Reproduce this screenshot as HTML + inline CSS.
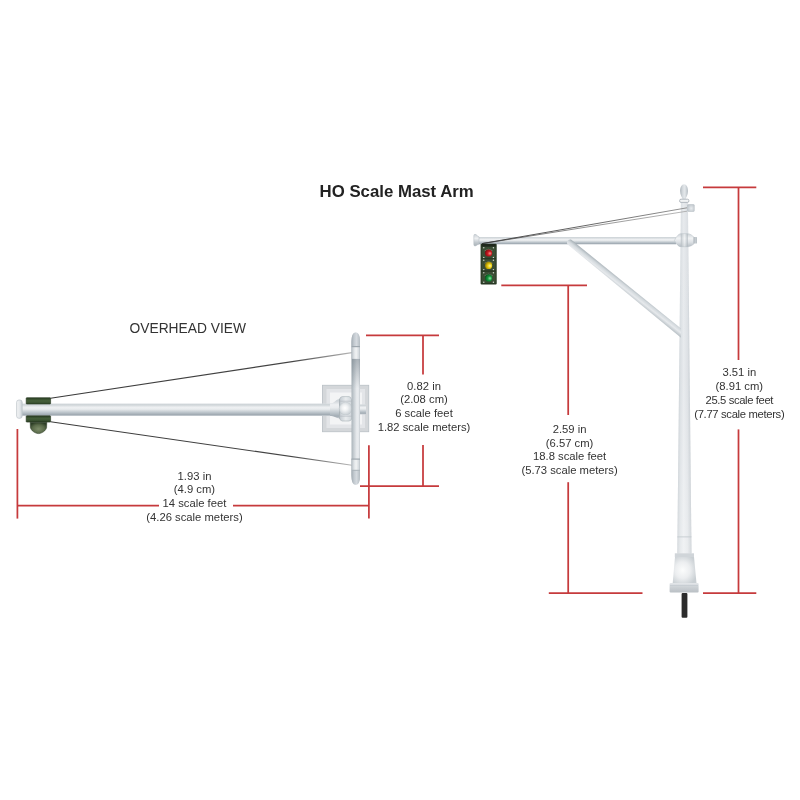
<!DOCTYPE html>
<html><head><meta charset="utf-8">
<style>
html,body{margin:0;padding:0;background:#fff;}
body{width:800px;height:800px;overflow:hidden;position:relative;}
svg{position:absolute;left:0;top:0;will-change:transform;}
text{font-family:"Liberation Sans",sans-serif;fill:#333;}
.t{font-size:11.25px;text-anchor:middle;}
</style></head>
<body>
<svg width="800" height="800" viewBox="0 0 800 800">
<defs>
  <linearGradient id="armH" x1="0" y1="0" x2="0" y2="1">
    <stop offset="0" stop-color="#d9dee1"/>
    <stop offset="0.1" stop-color="#cdd3d7"/>
    <stop offset="0.3" stop-color="#eef0f2"/>
    <stop offset="0.45" stop-color="#e9ecee"/>
    <stop offset="0.7" stop-color="#bfc7cd"/>
    <stop offset="0.88" stop-color="#a2acb4"/>
    <stop offset="1" stop-color="#cbd0d5"/>
  </linearGradient>
  <linearGradient id="armV" x1="0" y1="0" x2="1" y2="0">
    <stop offset="0" stop-color="#a8b1b8"/>
    <stop offset="0.2" stop-color="#c5ccd2"/>
    <stop offset="0.55" stop-color="#eef0f2"/>
    <stop offset="0.75" stop-color="#f2f4f5"/>
    <stop offset="0.9" stop-color="#d3d8db"/>
    <stop offset="1" stop-color="#dde1e4"/>
  </linearGradient>
  <linearGradient id="poleV" x1="0" y1="0" x2="1" y2="0">
    <stop offset="0" stop-color="#bdc4ca"/>
    <stop offset="0.22" stop-color="#d9dee2"/>
    <stop offset="0.45" stop-color="#e7eaed"/>
    <stop offset="0.72" stop-color="#dce0e4"/>
    <stop offset="1" stop-color="#b9c0c6"/>
  </linearGradient>
  <linearGradient id="poleLight" x1="0" y1="0" x2="0" y2="1">
    <stop offset="0" stop-color="#fff" stop-opacity="0"/>
    <stop offset="0.5" stop-color="#fff" stop-opacity="0.05"/>
    <stop offset="1" stop-color="#fff" stop-opacity="0.4"/>
  </linearGradient>
  <linearGradient id="green" x1="0" y1="0" x2="0" y2="1">
    <stop offset="0" stop-color="#2c3f24"/>
    <stop offset="0.5" stop-color="#4a6040"/>
    <stop offset="1" stop-color="#2c3f24"/>
  </linearGradient>
  <radialGradient id="dome" cx="0.5" cy="0.6" r="0.6">
    <stop offset="0" stop-color="#7d8d6a"/>
    <stop offset="0.6" stop-color="#5a6b4a"/>
    <stop offset="1" stop-color="#2d3e26"/>
  </radialGradient>
  <linearGradient id="gblk" x1="0" y1="0" x2="0" y2="1">
    <stop offset="0" stop-color="#2a3f23"/>
    <stop offset="0.5" stop-color="#46603a"/>
    <stop offset="1" stop-color="#33492b"/>
  </linearGradient>
  <linearGradient id="gblk2" x1="0" y1="0" x2="0" y2="1">
    <stop offset="0" stop-color="#2a3e23"/>
    <stop offset="0.45" stop-color="#445d38"/>
    <stop offset="1" stop-color="#2f4428"/>
  </linearGradient>
  <radialGradient id="base" cx="0.42" cy="0.5" r="0.62">
    <stop offset="0" stop-color="#fbfcfc"/>
    <stop offset="0.5" stop-color="#eceef0"/>
    <stop offset="1" stop-color="#c9cfd3"/>
  </radialGradient>
  <radialGradient id="ball" cx="0.45" cy="0.45" r="0.6">
    <stop offset="0" stop-color="#ffffff"/>
    <stop offset="0.35" stop-color="#f1f3f4"/>
    <stop offset="1" stop-color="#c3cad0"/>
  </radialGradient>
  <linearGradient id="shadeTop" x1="0" y1="0" x2="0" y2="1">
    <stop offset="0" stop-color="#5f6d77" stop-opacity="0.45"/>
    <stop offset="1" stop-color="#5f6d77" stop-opacity="0"/>
  </linearGradient>
  <linearGradient id="barV" x1="0" y1="0" x2="1" y2="0">
    <stop offset="0" stop-color="#aab3b9"/>
    <stop offset="0.25" stop-color="#c4cbd0"/>
    <stop offset="0.6" stop-color="#e6e9ec"/>
    <stop offset="0.8" stop-color="#e9ecef"/>
    <stop offset="1" stop-color="#c6ccd1"/>
  </linearGradient>
  <linearGradient id="collarV" x1="0" y1="0" x2="1" y2="0">
    <stop offset="0" stop-color="#b3bbc1"/>
    <stop offset="0.3" stop-color="#dfe3e6"/>
    <stop offset="0.55" stop-color="#f1f3f4"/>
    <stop offset="0.85" stop-color="#d6dbdf"/>
    <stop offset="1" stop-color="#b9c1c6"/>
  </linearGradient>
  <linearGradient id="tipV" x1="0" y1="0" x2="1" y2="0">
    <stop offset="0" stop-color="#a3acb3"/>
    <stop offset="0.3" stop-color="#c3cad0"/>
    <stop offset="0.6" stop-color="#d5dadf"/>
    <stop offset="1" stop-color="#b3bbc1"/>
  </linearGradient>
  <linearGradient id="finial" x1="0" y1="0" x2="1" y2="0">
    <stop offset="0" stop-color="#aeb6bc"/>
    <stop offset="0.35" stop-color="#d8dde1"/>
    <stop offset="0.6" stop-color="#e4e8eb"/>
    <stop offset="1" stop-color="#b3bbc1"/>
  </linearGradient>
  <radialGradient id="box" cx="0.55" cy="0.55" r="0.6">
    <stop offset="0" stop-color="#e8ebee"/>
    <stop offset="1" stop-color="#bfc6cb"/>
  </radialGradient>
  <linearGradient id="hub" x1="0" y1="0" x2="1" y2="0">
    <stop offset="0" stop-color="#c9cfd4"/>
    <stop offset="0.3" stop-color="#eceef0"/>
    <stop offset="0.5" stop-color="#dfe3e6"/>
    <stop offset="0.75" stop-color="#eef0f2"/>
    <stop offset="1" stop-color="#c5ccd1"/>
  </linearGradient>
  <linearGradient id="plinth" x1="0" y1="0" x2="0" y2="1">
    <stop offset="0" stop-color="#e4e7ea"/>
    <stop offset="0.4" stop-color="#cdd2d6"/>
    <stop offset="1" stop-color="#b9bfc4"/>
  </linearGradient>
  <radialGradient id="lr" cx="0.62" cy="0.58" r="0.65" fx="0.7" fy="0.55">
    <stop offset="0" stop-color="#f29a90"/>
    <stop offset="0.45" stop-color="#cc1a22"/>
    <stop offset="1" stop-color="#7a0c10"/>
  </radialGradient>
  <radialGradient id="ly" cx="0.62" cy="0.58" r="0.65" fx="0.7" fy="0.55">
    <stop offset="0" stop-color="#fff4a0"/>
    <stop offset="0.45" stop-color="#e8cc10"/>
    <stop offset="1" stop-color="#8a7400"/>
  </radialGradient>
  <radialGradient id="lg" cx="0.62" cy="0.58" r="0.65" fx="0.7" fy="0.55">
    <stop offset="0" stop-color="#9ae0a8"/>
    <stop offset="0.45" stop-color="#139a3c"/>
    <stop offset="1" stop-color="#07501c"/>
  </radialGradient>
  <linearGradient id="hubV" x1="0" y1="0" x2="0" y2="1">
    <stop offset="0" stop-color="#cdd3d8"/>
    <stop offset="0.35" stop-color="#f1f3f4"/>
    <stop offset="0.65" stop-color="#dde1e5"/>
    <stop offset="1" stop-color="#b6bec4"/>
  </linearGradient>
  <linearGradient id="hubBand" x1="0" y1="0" x2="1" y2="0">
    <stop offset="0" stop-color="#aeb6bc" stop-opacity="0.8"/>
    <stop offset="0.3" stop-color="#d5dadd" stop-opacity="0.6"/>
    <stop offset="0.55" stop-color="#f2f4f5" stop-opacity="0.6"/>
    <stop offset="0.8" stop-color="#c6cdd2" stop-opacity="0.6"/>
    <stop offset="1" stop-color="#aab2b8" stop-opacity="0.8"/>
  </linearGradient>
  <linearGradient id="stub" x1="0" y1="0" x2="1" y2="0">
    <stop offset="0" stop-color="#a9b1b7"/>
    <stop offset="0.5" stop-color="#c9cfd4"/>
    <stop offset="1" stop-color="#aeb6bc"/>
  </linearGradient>
  <linearGradient id="braceG" gradientUnits="userSpaceOnUse" x1="628" y1="284.5" x2="622.5" y2="291.5">
    <stop offset="0" stop-color="#aab3b9"/>
    <stop offset="0.3" stop-color="#d3d9dd"/>
    <stop offset="0.6" stop-color="#e6e9ec"/>
    <stop offset="1" stop-color="#b9c1c6"/>
  </linearGradient>
  <linearGradient id="capG" x1="0" y1="0" x2="1" y2="0">
    <stop offset="0" stop-color="#f4f5f6"/>
    <stop offset="0.6" stop-color="#e2e6e9"/>
    <stop offset="1" stop-color="#c5ccd1"/>
  </linearGradient>
  <linearGradient id="wireG" gradientUnits="userSpaceOnUse" x1="50" y1="0" x2="352" y2="0">
    <stop offset="0" stop-color="#3a3a3a"/>
    <stop offset="0.8" stop-color="#444"/>
    <stop offset="1" stop-color="#b8b8b8"/>
  </linearGradient>
  <linearGradient id="wire2" gradientUnits="userSpaceOnUse" x1="482" y1="0" x2="687" y2="0">
    <stop offset="0" stop-color="#2e2e2e"/>
    <stop offset="0.5" stop-color="#555"/>
    <stop offset="1" stop-color="#8a8a8a"/>
  </linearGradient>
  <linearGradient id="wire2b" gradientUnits="userSpaceOnUse" x1="482" y1="0" x2="687" y2="0">
    <stop offset="0" stop-color="#3a3a3a"/>
    <stop offset="0.5" stop-color="#777"/>
    <stop offset="1" stop-color="#a5a5a5"/>
  </linearGradient>
  <linearGradient id="capG2" x1="0" y1="0" x2="0" y2="1">
    <stop offset="0" stop-color="#c9cfd4"/>
    <stop offset="0.35" stop-color="#eef0f2"/>
    <stop offset="0.7" stop-color="#c2c9ce"/>
    <stop offset="1" stop-color="#a9b1b7"/>
  </linearGradient>
  <linearGradient id="knuck" x1="0" y1="0" x2="1" y2="0">
    <stop offset="0" stop-color="#c3cad0"/>
    <stop offset="0.5" stop-color="#e9ecee"/>
    <stop offset="1" stop-color="#ced4d9"/>
  </linearGradient>
</defs>

<!-- Title -->
<text x="319.6" y="196.6" style="font-size:16.8px;font-weight:bold;fill:#222">HO Scale Mast Arm</text>
<text x="129.5" y="333" style="font-size:13.8px;fill:#333">OVERHEAD VIEW</text>

<!-- ============ OVERHEAD VIEW ============ -->
<!-- plate -->
<rect x="322.5" y="385.3" width="46.2" height="46.4" fill="#d4d7da" stroke="#bdc3c8" stroke-width="0.9"/>
<rect x="326.5" y="389" width="38.5" height="39" fill="#e3e5e8"/>
<rect x="330" y="392.5" width="32" height="32" fill="#f3f4f5"/>

<!-- wires -->
<line x1="50.5" y1="398.2" x2="352" y2="352.6" stroke="url(#wireG)" stroke-width="1.1"/>
<line x1="50.5" y1="421.8" x2="352" y2="465.3" stroke="url(#wireG)" stroke-width="1.1"/>

<!-- arm -->
<rect x="20" y="403.5" width="320" height="12.5" fill="url(#armH)"/>
<!-- end cap -->
<rect x="16.6" y="400" width="5.6" height="18.3" rx="2.3" fill="url(#capG)" stroke="#bcc3c9" stroke-width="0.7"/>
<!-- green mount -->
<rect x="26.2" y="397.7" width="24.4" height="6.3" rx="0.6" fill="url(#gblk)" stroke="#22331d" stroke-width="0.6"/>
<rect x="26.2" y="415.8" width="24.4" height="6.3" rx="0.6" fill="url(#gblk2)" stroke="#22331d" stroke-width="0.6"/>
<path d="M30.2 422.2 L46.8 422.2 L46.6 427.5 C46 430.8 41.5 433.6 38.5 433.6 C35.5 433.6 31 430.8 30.4 427.5 Z" fill="url(#dome)" stroke="#2a3a24" stroke-width="0.5"/>

<!-- ball joint -->
<path d="M330 403.8 C334 403.8 336 399.2 339.5 398.8 L339.5 418.6 C336 418.2 334 415.8 330 415.8 Z" fill="url(#armH)"/>
<path d="M339.5 398.8 L339.5 418.6" stroke="#9aa3aa" stroke-width="0.8"/>
<path d="M342.3 396.6 L349 396.6 Q351 396.8 351.5 399.5 L352 417.8 Q351.5 420.8 349 421 L342.3 421 Q340 420.8 339.6 418 L339.6 399.5 Q340 396.8 342.3 396.6 Z" fill="url(#knuck)" stroke="#a9b1b7" stroke-width="0.6"/>
<path d="M340 401.2 L351.8 401.2 M340 416.2 L351.8 416.2" stroke="#b5bcc2" stroke-width="0.7"/>
<circle cx="345.6" cy="408.6" r="6.4" fill="url(#ball)" stroke="#bfc6cb" stroke-width="0.5"/>
<rect x="360" y="404.3" width="6" height="10.2" fill="url(#armH)"/>

<!-- vertical bar -->
<path d="M351.5 342 Q351.5 332.5 355.8 332.5 Q360 332.5 360 342 L360 475 Q360 484.8 355.8 484.8 Q351.5 484.8 351.5 475 Z" fill="url(#barV)"/>
<rect x="351.6" y="358.5" width="8.4" height="30" fill="url(#shadeTop)"/>
<rect x="351.5" y="346.8" width="8.5" height="12" fill="url(#collarV)"/>
<path d="M351.5 346.3 L351.5 341 Q351.5 332.5 355.8 332.5 Q360 332.5 360 341 L360 346.3 Z" fill="url(#tipV)"/>
<rect x="351.5" y="346" width="8.5" height="1.2" fill="#9ea7ae"/>
<rect x="351.5" y="459" width="8.5" height="11" fill="url(#collarV)"/>
<rect x="351.5" y="458.5" width="8.5" height="1.2" fill="#9ea7ae"/>
<path d="M351.5 470.5 L351.5 476 Q351.5 484.8 355.8 484.8 Q360 484.8 360 476 L360 470.5 Z" fill="url(#tipV)"/>
<rect x="351.5" y="469.8" width="8.5" height="1" fill="#aab2b9"/>

<!-- red dims overhead -->
<g stroke="#c63a3c" stroke-width="1.75" fill="none">
  <line x1="366" y1="335.4" x2="439" y2="335.4"/>
  <line x1="423" y1="335.4" x2="423" y2="374.5"/>
  <line x1="423" y1="445" x2="423" y2="486"/>
  <line x1="360" y1="486" x2="439" y2="486"/>
  <line x1="368.9" y1="445.2" x2="368.9" y2="518.4"/>
  <line x1="17.4" y1="429" x2="17.4" y2="518.6"/>
  <line x1="17.4" y1="505.6" x2="159" y2="505.6"/>
  <line x1="233" y1="505.6" x2="368.9" y2="505.6"/>
</g>

<text class="t" x="424" y="389.5">0.82 in</text>
<text class="t" x="424" y="403.2">(2.08 cm)</text>
<text class="t" x="424" y="416.9">6 scale feet</text>
<text class="t" x="424" y="430.6">1.82 scale meters)</text>

<text class="t" x="194.5" y="479.5">1.93 in</text>
<text class="t" x="194.5" y="493.2">(4.9 cm)</text>
<text class="t" x="194.5" y="507">14 scale feet</text>
<text class="t" x="194.5" y="520.7">(4.26 scale meters)</text>

<!-- ============ SIDE VIEW ============ -->
<!-- pole -->
<path d="M680.9 200 L687.9 200 L691.5 553.5 L677.3 553.5 Z" fill="url(#poleV)"/>
<path d="M680.9 200 L687.9 200 L691.5 553.5 L677.3 553.5 Z" fill="url(#poleLight)"/>
<!-- finial -->
<path d="M684.1 184.2 C686.6 184.2 688 187.5 688 191 C688 195 686 197.5 685.5 199.2 L682.7 199.2 C682.2 197.5 680.1 195 680.1 191 C680.1 187.5 681.6 184.2 684.1 184.2 Z" fill="url(#finial)"/>
<rect x="679.6" y="199.2" width="9.3" height="3.2" rx="1.4" fill="#f2f4f5" stroke="#a3abb2" stroke-width="0.8"/>
<rect x="687.5" y="204.5" width="6.8" height="7" rx="0.8" fill="url(#box)" stroke="#b3bac0" stroke-width="0.5"/>

<!-- arm -->
<rect x="476" y="237" width="200" height="7.5" fill="url(#armH)"/>
<path d="M479 236.8 C477.5 236.5 476.5 234.3 475 234.3 Q473.8 234.3 473.8 235.8 L473.8 244.5 Q473.8 246 475 246 C476.5 246 477.5 244.2 479 244 Z" fill="url(#capG2)" stroke="#b3bac0" stroke-width="0.5"/>
<path d="M674.4 240.4 C676 238 678 233.7 681 233.7 L687.8 233.7 C690.5 233.7 692.5 236 694 237.2 L694 243.8 C692.5 245 690.5 246.7 687.8 246.7 L681 246.7 C678 246.7 676 243 674.4 240.4 Z" fill="url(#hubV)" stroke="#b7bec4" stroke-width="0.5"/>
<rect x="680.8" y="233.8" width="7" height="12.8" fill="url(#hubBand)"/>
<rect x="693.6" y="236.9" width="3.3" height="6.6" rx="0.5" fill="url(#stub)"/>
<!-- brace -->
<path d="M571 239.6 L681 328.5 L681 337.8 L567.8 244.6 C565.8 242.6 567.5 238.9 571 239.6 Z" fill="url(#braceG)"/>

<!-- wires -->
<line x1="482" y1="243.6" x2="687" y2="207.8" stroke="url(#wire2)" stroke-width="0.9"/>
<line x1="482" y1="243.6" x2="687" y2="211.2" stroke="url(#wire2b)" stroke-width="0.8"/>
<!-- traffic light -->
<rect x="480.6" y="243.8" width="16.1" height="40.7" rx="1" fill="#283824"/>
<rect x="482" y="244" width="13.3" height="2.5" fill="#1f281c"/>
<g fill="#3a4d34">
<rect x="481.6" y="246.8" width="14.1" height="11"/>
<rect x="481.6" y="259.3" width="14.1" height="11"/>
<rect x="481.6" y="271.8" width="14.1" height="11"/>
</g>
<g fill="#cfd3cc">
<circle cx="483.8" cy="247.8" r="0.7"/><circle cx="493.4" cy="247.8" r="0.7"/>
<circle cx="483.8" cy="257.4" r="0.7"/><circle cx="493.4" cy="257.4" r="0.7"/>
<circle cx="483.8" cy="260.2" r="0.7"/><circle cx="493.4" cy="260.2" r="0.7"/>
<circle cx="483.8" cy="269.6" r="0.7"/><circle cx="493.4" cy="269.6" r="0.7"/>
<circle cx="483.8" cy="272.7" r="0.7"/><circle cx="493.4" cy="272.7" r="0.7"/>
<circle cx="483.8" cy="282.3" r="0.7"/><circle cx="493.4" cy="282.3" r="0.7"/>
</g>
<g fill="none" stroke="#7c8570" stroke-width="0.8">
<path d="M484.6 250.8 Q488.6 247.8 492.6 250.8"/>
<path d="M484.6 263.2 Q488.6 260.2 492.6 263.2"/>
<path d="M484.6 275.7 Q488.6 272.7 492.6 275.7"/>
</g>
<circle cx="488.6" cy="253" r="3.6" fill="url(#lr)"/>
<circle cx="488.6" cy="265.4" r="3.6" fill="url(#ly)"/>
<circle cx="488.6" cy="277.9" r="3.6" fill="url(#lg)"/>

<!-- base -->
<rect x="677.3" y="536.5" width="14.2" height="0.8" fill="#c0c7cc"/>
<rect x="674.8" y="553.3" width="19.2" height="3.8" fill="#d0d5d9"/>
<path d="M675 557 L694 557 L696.5 583.3 L672.7 583.3 Z" fill="url(#base)"/>
<rect x="669.6" y="583" width="29" height="9.6" rx="1" fill="url(#plinth)"/>
<rect x="670" y="585.3" width="28" height="0.7" fill="#c3c9ce"/>
<rect x="681.6" y="593" width="5.8" height="24.7" rx="1" fill="#2b2b2b"/>

<!-- red dims side -->
<g stroke="#c63a3c" stroke-width="1.75" fill="none">
  <line x1="703" y1="187.3" x2="756.3" y2="187.3"/>
  <line x1="738.5" y1="187.3" x2="738.5" y2="360"/>
  <line x1="738.5" y1="429.4" x2="738.5" y2="593"/>
  <line x1="703" y1="593" x2="756.3" y2="593"/>
  <line x1="501.3" y1="285.3" x2="587" y2="285.3"/>
  <line x1="568.2" y1="285.3" x2="568.2" y2="415"/>
  <line x1="568.2" y1="482.2" x2="568.2" y2="593"/>
  <line x1="548.8" y1="593" x2="642.5" y2="593"/>
</g>

<text class="t" x="739.3" y="376.3">3.51 in</text>
<text class="t" x="739.3" y="390">(8.91 cm)</text>
<text class="t" x="739.3" y="403.8" style="letter-spacing:-0.38px">25.5 scale feet</text>
<text class="t" x="739.3" y="417.5" style="letter-spacing:-0.33px">(7.77 scale meters)</text>

<text class="t" x="569.6" y="432.7">2.59 in</text>
<text class="t" x="569.6" y="446.5">(6.57 cm)</text>
<text class="t" x="569.6" y="460.3">18.8 scale feet</text>
<text class="t" x="569.6" y="474.2">(5.73 scale meters)</text>
</svg>
</body></html>
